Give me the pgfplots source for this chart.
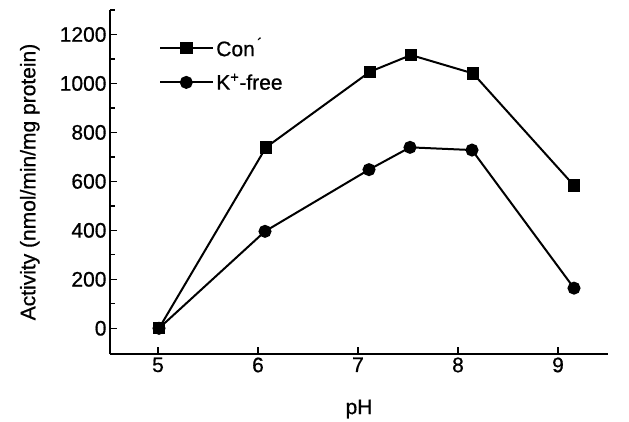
\documentclass[border=0pt]{standalone}
\usepackage{fontspec}
\setmainfont{Liberation Sans}[FakeBold=0.7]
\usepackage{pgfplots}
\pgfplotsset{compat=1.18}
\begin{document}
\begin{tikzpicture}
\begin{axis}[
  name=ax,
  scale only axis,
  width=498pt, height=344pt,
  xmin=4.52, xmax=9.5,
  ymin=-105, ymax=1300,
  axis lines*=left,
  axis line style={line width=1.5pt},
  tick align=inside,
  major tick length=7pt,
  minor tick length=5pt,
  every tick/.style={line width=1.3pt, black},
  xtick={5,6,7,8,9},
  ytick={0,200,400,600,800,1000,1200},
  minor ytick={100,300,500,700,900,1100,1300},
  /pgf/number format/assume math mode=true,
  /pgf/number format/1000 sep={},
  tick label style={font=\fontsize{21}{24}\selectfont},
  xlabel={pH},
  ylabel={Activity (nmol/min/mg protein)},
  label style={font=\fontsize{21}{24}\selectfont},
  xlabel style={at={(axis description cs:0.5,-0.16)}, anchor=center},
  ylabel style={at={(axis description cs:-0.161,0.5)}, anchor=center},
  clip=false,
  legend cell align=left,
  legend style={draw=none, fill=none, at={(axis description cs:0.099,0.925)}, anchor=north west,
    font=\fontsize{21}{24}\selectfont, row sep=12pt, inner sep=0pt, outer sep=0pt},
  legend image code/.code={\draw[mark repeat=2,mark phase=2,#1] plot coordinates {(0pt,0pt) (26pt,0pt) (53pt,0pt)};},
]
\addplot[black, line width=2pt, mark=square*, mark size=5.2pt, mark options={solid}] coordinates {
  (5.01,0) (6.08,739) (7.12,1048) (7.53,1116) (8.15,1041) (9.16,583)
};
\addlegendentry{Con\textsuperscript{\,´}}
\addplot[black, line width=2pt, mark=*, mark size=5.5pt, mark options={solid}] coordinates {
  (5.01,0) (6.07,396) (7.11,648) (7.52,739) (8.14,728) (9.16,164)
};
\addlegendentry{K\textsuperscript{+}-free}
\end{axis}
\pgfresetboundingbox
\useasboundingbox (ax.south west) ++(-110pt,-67pt) rectangle ++(629pt,421pt);
\end{tikzpicture}
\end{document}
